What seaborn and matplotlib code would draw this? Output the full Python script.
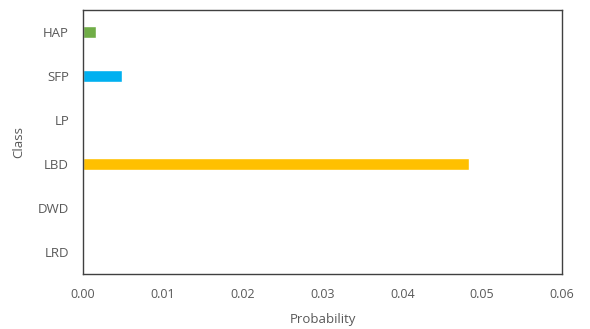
import matplotlib
matplotlib.use("Agg")
import matplotlib.pyplot as plt
import seaborn as sns
import pandas as pd

classes = ["HAP", "SFP", "LP", "LBD", "DWD", "LRD"]
probability = [0.0016, 0.0049, 0.0, 0.0484, 0.0, 0.0]
colors = ["#70AD47", "#00B0F0", "#A5A5A5", "#FFC000", "#4472C4", "#ED7D31"]

sns.set_style("white")
plt.rcParams["font.family"] = ["Open Sans", "DejaVu Sans"]

df = pd.DataFrame({"Class": classes, "Probability": probability})

fig = plt.figure(figsize=(5.9, 3.29), dpi=100)
ax = fig.add_axes([83/590, 1 - 274/329, (562-83)/590, (274-10)/329])

sns.barplot(data=df, x="Probability", y="Class", hue="Class", palette=colors,
            order=classes, orient="h", width=0.27, legend=False, ax=ax, saturation=1)

ax.set_xlim(0, 0.06)
ax.set_ylim(5.5, -0.5)
ax.set_xticks([0, 0.01, 0.02, 0.03, 0.04, 0.05, 0.06])
ax.set_xticklabels(["0.00", "0.01", "0.02", "0.03", "0.04", "0.05", "0.06"])
tc = "#595959"
ax.tick_params(axis="x", direction="out", length=4, width=1, colors="#404040",
               labelcolor=tc, labelsize=9, pad=6)
ax.tick_params(axis="y", length=0, labelcolor=tc, labelsize=9.5, pad=10)
for s in ax.spines.values():
    s.set_visible(True)
    s.set_color("#404040")
    s.set_linewidth(1)
ax.set_xlabel("Probability", color=tc, fontsize=9.5, labelpad=9)
ax.set_ylabel("Class", color=tc, fontsize=9.5, labelpad=9)

fig.savefig("out.png", dpi=100)
